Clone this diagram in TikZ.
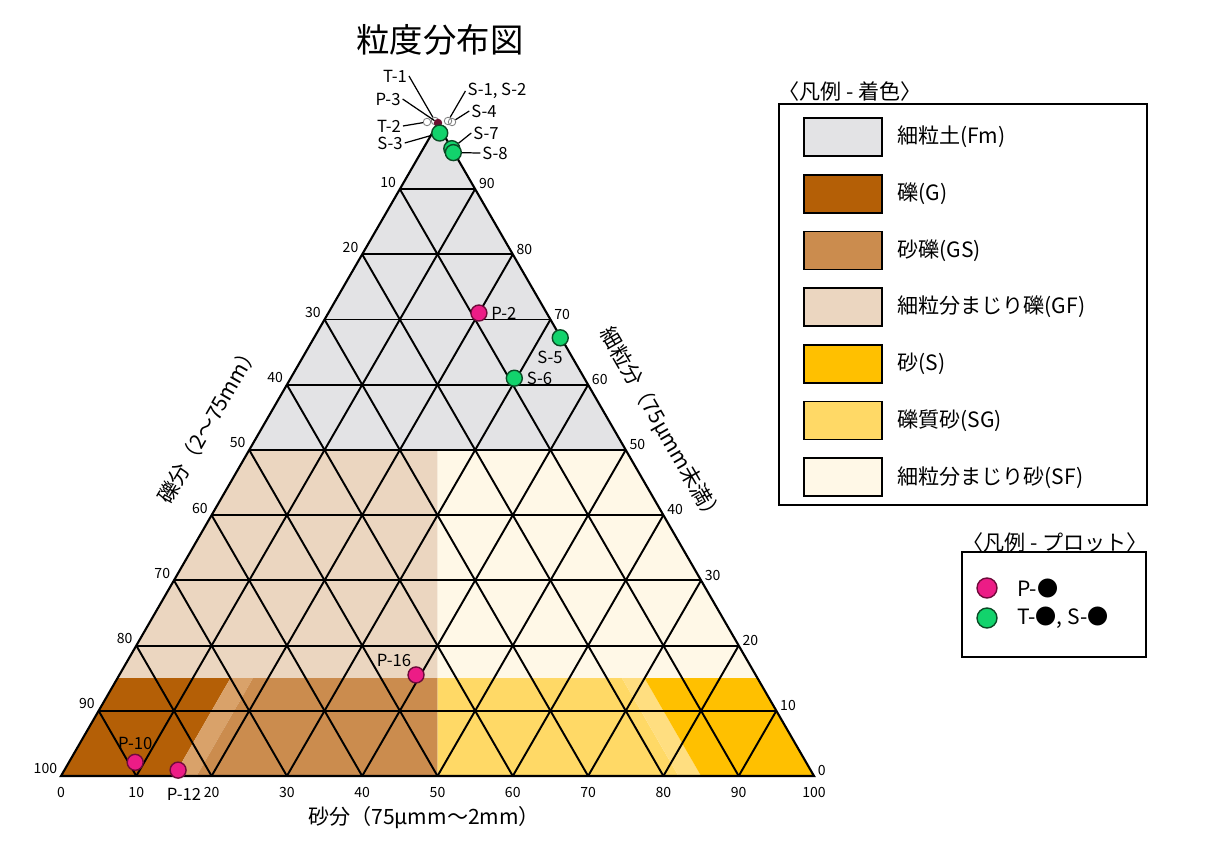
\documentclass[tikz,border=0pt]{standalone}
\usepackage{fontspec}
\setmainfont{Noto Sans CJK JP}
\usetikzlibrary{positioning}
\definecolor{fmcol}{HTML}{E3E3E5}
\definecolor{gcol}{HTML}{B45F06}
\definecolor{gscol}{HTML}{CB8C4E}
\definecolor{gstripe}{HTML}{D9A26A}
\definecolor{gfcol}{HTML}{EBD6C0}
\definecolor{scol}{HTML}{FFC000}
\definecolor{sstripe}{HTML}{FFDE80}
\definecolor{sgcol}{HTML}{FFD966}
\definecolor{sfcol}{HTML}{FFF8E7}
\definecolor{ppink}{HTML}{EC1C86}
\definecolor{pline}{HTML}{6E0A3A}
\definecolor{pgreen}{HTML}{12D36C}
\definecolor{gline}{HTML}{0B4A25}
\definecolor{pdark}{HTML}{6B1030}
\begin{document}
\begin{tikzpicture}[x=0.02cm,y=-0.02cm,
    gridline/.style={line width=1.1pt},
    tick/.style={font=\fontsize{8}{9}\selectfont,inner sep=1pt},
    pmark/.style={circle,draw=pline,fill=ppink,line width=0.8pt,minimum size=0.32cm,inner sep=0pt},
    gmark/.style={circle,draw=gline,fill=pgreen,line width=0.8pt,minimum size=0.32cm,inner sep=0pt},
    tinymark/.style={circle,draw=black!50,line width=0.5pt,minimum size=0.15cm,inner sep=0pt},
    ptlab/.style={font=\fontsize{9.5}{11}\selectfont,inner sep=1pt},
    leader/.style={line width=0.7pt},
    swatch/.style={draw,line width=1pt,minimum width=1.56cm,minimum height=0.76cm},
    legtxt/.style={font=\fontsize{12}{14}\selectfont,inner sep=0pt},
    legtitle/.style={font=\fontsize{12}{14}\selectfont,anchor=west,inner sep=0pt},
    axtitle/.style={font=\fontsize{12}{14}\selectfont}]
  \useasboundingbox (0,0) rectangle (1210,841);
  \coordinate (G100) at (61,776); % 礫分 100%
  \coordinate (S100) at (814,776); % 砂分 100%
  \coordinate (F100) at (437.5,123.9); % 細粒分 100%
  % 着色 (重みは割合 0-1)
  \fill[fmcol] (barycentric cs:G100=.5,F100=.5) -- (barycentric cs:S100=.5,F100=.5) -- (F100) -- cycle; % Fm
  \fill[gfcol] (barycentric cs:G100=.85,F100=.15) -- (barycentric cs:G100=.5,F100=.5) -- (barycentric cs:G100=.25,S100=.25,F100=.5) -- (barycentric cs:G100=.425,S100=.425,F100=.15) -- cycle; % GF
  \fill[sfcol] (barycentric cs:G100=.425,S100=.425,F100=.15) -- (barycentric cs:G100=.25,S100=.25,F100=.5) -- (barycentric cs:S100=.5,F100=.5) -- (barycentric cs:S100=.85,F100=.15) -- cycle; % SF
  \fill[gcol] (G100) -- (barycentric cs:G100=.85,S100=.15) -- (barycentric cs:G100=.7,S100=.15,F100=.15) -- (barycentric cs:G100=.85,F100=.15) -- cycle; % G
  \fill[gstripe] (barycentric cs:G100=.85,S100=.15) -- (barycentric cs:G100=.82,S100=.18) -- (barycentric cs:G100=.67,S100=.18,F100=.15) -- (barycentric cs:G100=.7,S100=.15,F100=.15) -- cycle;
  \fill[gscol] (barycentric cs:G100=.82,S100=.18) -- (barycentric cs:G100=.5,S100=.5) -- (barycentric cs:G100=.425,S100=.425,F100=.15) -- (barycentric cs:G100=.67,S100=.18,F100=.15) -- cycle; % GS
  \fill[sgcol] (barycentric cs:G100=.5,S100=.5) -- (barycentric cs:G100=.18,S100=.82) -- (barycentric cs:G100=.18,S100=.67,F100=.15) -- (barycentric cs:G100=.425,S100=.425,F100=.15) -- cycle; % SG
  \fill[sstripe] (barycentric cs:G100=.18,S100=.82) -- (barycentric cs:G100=.15,S100=.85) -- (barycentric cs:G100=.15,S100=.7,F100=.15) -- (barycentric cs:G100=.18,S100=.67,F100=.15) -- cycle;
  \fill[scol] (barycentric cs:G100=.15,S100=.85) -- (S100) -- (barycentric cs:S100=.85,F100=.15) -- (barycentric cs:G100=.15,S100=.7,F100=.15) -- cycle; % S
  % 格子
  \foreach \i [evaluate=\i as \a using \i/100, evaluate=\i as \b using 1-\i/100] in {10,20,...,90}{
    \draw[gridline] (barycentric cs:G100=\b,S100=\a) -- (barycentric cs:S100=\a,F100=\b); % 砂分一定
    \draw[gridline] (barycentric cs:G100=\b,S100=\a) -- (barycentric cs:G100=\b,F100=\a); % 礫分一定
    \draw[gridline] (barycentric cs:G100=\b,F100=\a) -- (barycentric cs:S100=\b,F100=\a); % 細粒分一定
  }
  \draw[line width=1.2pt] (G100) -- (S100) -- (F100) -- cycle;
  % 目盛
  \foreach \i [evaluate=\i as \a using \i/100, evaluate=\i as \b using 1-\i/100] in {0,10,...,100}
    \node[tick,anchor=north,yshift=-5pt] (bt\i) at (barycentric cs:G100=\b,S100=\a) {\i};
  \foreach \i [evaluate=\i as \a using \i/100, evaluate=\i as \b using 1-\i/100] in {10,20,...,100}
    \node[tick,anchor=east,xshift=-1pt,yshift=4pt] (lt\i) at (barycentric cs:G100=\a,F100=\b) {\i};
  \foreach \i [evaluate=\i as \a using \i/100, evaluate=\i as \b using 1-\i/100] in {0,10,...,90}
    \node[tick,anchor=west,xshift=1pt,yshift=3pt] (rt\i) at (barycentric cs:S100=\b,F100=\a) {\i};
  % 軸名
  \node[font=\fontsize{19}{22}\selectfont] (title) at (440,40) {粒度分布図};
  \node[axtitle] (xlab) at (424,818) {砂分（75μmm～2mm）};
  \node[axtitle,rotate=60] (glab) at (208,424) {礫分（2～75mm）};
  \node[axtitle,rotate=-60] (flab) at (661,426) {細粒分（75μmm未満）};
  % プロット
  \node[tinymark] (pT2) at (427,122) {};
  \node[tinymark] (pT1) at (435,121) {};
  \node[tinymark,fill=pdark,draw=pdark] (pP3) at (438,123) {};
  \node[tinymark] (pS12) at (448,121) {};
  \node[tinymark] (pS4) at (452,122) {};
  \node[gmark] (pS3) at (barycentric cs:G100=.004,S100=.01,F100=.986) {};
  \node[gmark] (pS7) at (barycentric cs:G100=0,S100=.038,F100=.962) {};
  \node[gmark] (pS8) at (barycentric cs:G100=.001,S100=.043,F100=.956) {};
  \node[gmark] (pS5) at (barycentric cs:G100=.001,S100=.327,F100=.672) {};
  \node[gmark] (pS6) at (barycentric cs:G100=.093,S100=.297,F100=.61) {};
  \node[pmark] (pP2) at (barycentric cs:G100=.09,S100=.2,F100=.71) {};
  \node[pmark] (pP16) at (barycentric cs:G100=.451,S100=.394,F100=.155) {};
  \node[pmark] (pP10) at (barycentric cs:G100=.891,S100=.088,F100=.021) {};
  \node[pmark] (pP12) at (barycentric cs:G100=.84,S100=.151,F100=.009) {};
  % ラベル
  \node[ptlab] (lT1) at (395,76) {T-1};
  \node[ptlab] (lP3) at (388,99) {P-3};
  \node[ptlab] (lT2) at (389,126) {T-2};
  \node[ptlab] (lS3) at (390,143) {S-3};
  \node[ptlab] (lS12) at (497,91) {S-1, S-2};
  \node[ptlab] (lS4) at (484,111) {S-4};
  \node[ptlab] (lS7) at (486,133) {S-7};
  \node[ptlab] (lS8) at (495,153) {S-8};
  \draw[leader] (lT1.east) -- (pT1);
  \draw[leader] (lP3.east) -- (pP3);
  \draw[leader] (lT2.east) -- (pT2);
  \draw[leader] (lS3.east) -- (pS3);
  \draw[leader] (lS12.west) -- (pS12);
  \draw[leader] (lS4.west) -- (pS4);
  \draw[leader] (lS7.west) -- (pS7);
  \draw[leader] (lS8.west) -- (pS8);
  \node[ptlab,right=1pt of pP2] (lP2) {P-2};
  \node[ptlab] (lS5) at (550,357) {S-5};
  \node[ptlab,right=1pt of pS6] (lS6) {S-6};
  \node[ptlab] (lP16) at (394,660) {P-16};
  \node[ptlab,above=1pt of pP10] (lP10) {P-10};
  \node[ptlab] (lP12) at (184,794) {P-12};
  % 凡例 - 着色
  \node[legtitle] (leg1title) at (778,91) {〈凡例 - 着色〉};
  \draw[line width=1.1pt] (779,104) rectangle (1147,505);
  \foreach \col/\txt [count=\k] in {fmcol/細粒土(Fm),gcol/礫(G),gscol/砂礫(GS),gfcol/細粒分まじり礫(GF),scol/砂(S),sgcol/礫質砂(SG),sfcol/細粒分まじり砂(SF)}{
    \node[swatch,fill=\col] (sw\k) at (843,{80.3+56.7*\k}) {};
    \node[legtxt,right=8pt of sw\k] (lg\k) {\txt};
  }
  % 凡例 - プロット
  \node[legtitle] (leg2title) at (962,542) {〈凡例 - プロット〉};
  \draw[line width=1pt] (962,552) rectangle (1146,657);
  \node[pmark,minimum size=0.4cm] (legP) at (987,588) {};
  \node[legtxt,right=11pt of legP] (legPtxt) {P-●};
  \node[gmark,minimum size=0.4cm] (legG) at (987,618) {};
  \node[legtxt,right=11pt of legG] (legGtxt) {T-●, S-●};
\end{tikzpicture}
\end{document}
